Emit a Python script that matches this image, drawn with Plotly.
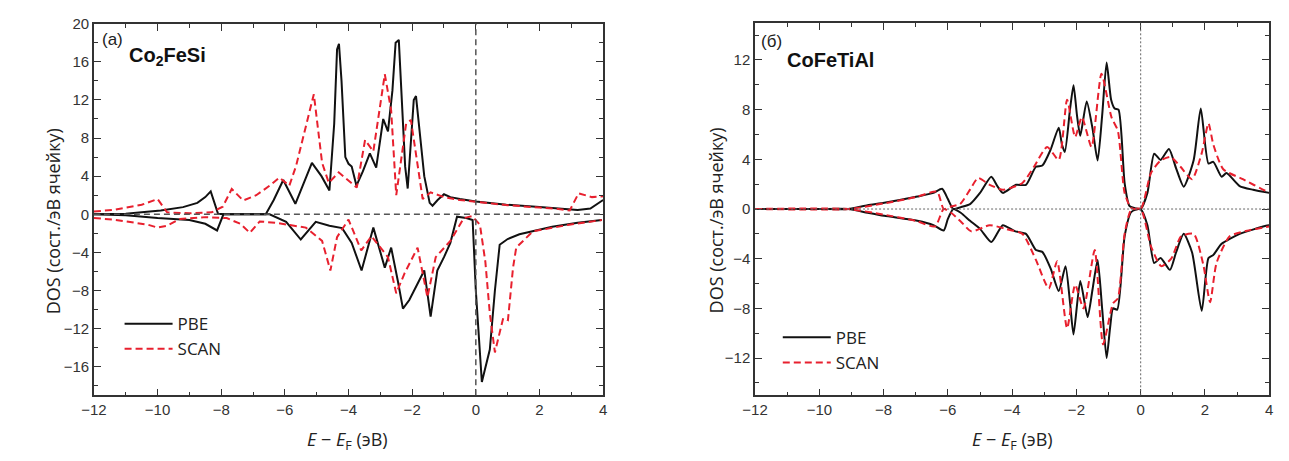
import plotly.graph_objects as go

# ---------------- Co2FeSi (panel a) ----------------
e_cfs_pbe_up = [-12, -11, -10.5, -9.9, -9.2, -8.75, -8.5, -8.33, -8.1, -7.9, -6.6, -6.35, -6.05, -5.67,
                -5.15, -4.85, -4.6, -4.45, -4.36, -4.3, -4.22, -4.1, -4.0, -3.9, -3.75, -3.55, -3.33, -3.13,
                -2.91, -2.76, -2.62, -2.52, -2.42, -2.33, -2.22, -2.14, -2.05, -1.95, -1.88, -1.8, -1.62,
                -1.45, -1.36, -1.2, -1.0, -0.8, -0.5, 0.0, 0.96, 2.0, 2.7, 3.2, 3.6, 4.0]
dos_cfs_pbe_up = [0, 0.05, 0.2, 0.4, 0.75, 1.2, 1.8, 2.4, 0.05, 0, 0, 1.5, 3.6, 1.1,
                  5.4, 4.0, 2.5, 9.5, 17.3, 17.9, 14.0, 6.0, 5.3, 5.0, 3.0, 4.5, 6.4, 4.9,
                  10.0, 8.7, 13.0, 18.0, 18.3, 12.0, 5.0, 2.7, 7.0, 12.0, 12.4, 10.0, 4.0,
                  1.2, 0.9, 1.5, 2.1, 1.8, 1.6, 1.35, 1.0, 0.76, 0.55, 0.45, 0.6, 1.5]

e_cfs_pbe_dn = [-12, -11, -10, -9.0, -8.5, -8.13, -7.93, -6.48, -5.96, -5.5, -5.03, -4.6, -4.2, -3.9,
                -3.59, -3.22, -2.86, -2.66, -2.45, -2.29, -2.09, -1.85, -1.62, -1.42, -1.21, -1.0, -0.8,
                -0.59, -0.3, -0.1, 0.0, 0.19, 0.44, 0.6, 0.75, 1.0, 1.37, 2.4, 3.2, 3.96]
dos_cfs_pbe_dn = [0, -0.1, -0.4, -0.6, -1.0, -1.7, 0, 0, -0.8, -2.65, -0.8, -1.2, -1.45, -3.0,
                  -5.9, -1.4, -5.6, -3.5, -7.0, -9.9, -9.0, -7.5, -5.9, -10.75, -5.9, -4.5, -3.0,
                  -0.25, -0.4, -0.6, -8.0, -17.6, -14.2, -8.0, -3.2, -2.6, -2.1, -1.3, -0.9, -0.6]

e_cfs_scan_up = [-12, -11.4, -10.5, -10.0, -9.7, -9.0, -8.3, -7.95, -7.67, -7.31, -6.9, -6.48, -6.17,
                 -5.86, -5.65, -5.09, -4.83, -4.62, -4.31, -3.74, -3.48, -3.22, -2.86, -2.66, -2.5,
                 -2.19, -2.04, -1.67, -1.42, -1.0, -0.5, 0, 1.0, 2.0, 2.5, 2.95, 3.23, 3.65, 4.0]
dos_cfs_scan_up = [0.3, 0.45, 1.0, 1.6, 0.2, 0.1, 0.2, 0.8, 2.65, 1.45, 2.0, 3.0, 3.85,
                   3.0, 5.05, 12.6, 5.4, 3.3, 4.4, 2.8, 7.8, 6.6, 14.7, 10.9, 2.0,
                   9.5, 9.9, 1.6, 2.3, 1.8, 1.5, 1.3, 0.95, 0.7, 0.6, 0.4, 2.2, 1.8, 1.9]

e_cfs_scan_dn = [-12, -11.4, -10.3, -10.0, -9.7, -9.3, -8.5, -7.83, -7.4, -7.1, -6.79, -6.27, -5.34,
                 -4.83, -4.57, -4.36, -4.0, -3.6, -3.28, -2.76, -2.5, -2.24, -1.83, -1.52, -1.26, -0.8,
                 -0.38, -0.12, 0.13, 0.3, 0.44, 0.6, 0.86, 1.01, 1.17, 1.27, 1.79, 2.93, 3.96]
dos_cfs_scan_dn = [-0.4, -0.55, -1.1, -1.4, -1.2, -0.5, -0.3, -0.4, -1.0, -1.95, -0.75, -0.9, -1.4,
                   -2.8, -5.9, -2.4, -0.55, -3.8, -2.3, -4.5, -8.3, -6.2, -3.5, -8.7, -4.5, -2.8,
                   -0.4, -0.2, -1.1, -5.0, -10.4, -14.5, -10.9, -11.1, -5.6, -3.5, -1.8, -1.1, -0.6]

# ---------------- CoFeTiAl (panel б) ----------------
e_cfta_pbe_up = [-12, -10, -9.1, -8.5, -7.98, -6.95, -6.45, -6.18, -6.0, -5.83, -5.6, -5.31, -5.0, -4.65,
                 -4.45, -4.29, -3.88, -3.57, -3.26, -3.06, -2.8, -2.55, -2.45, -2.36, -2.2, -2.09, -1.98,
                 -1.88, -1.68, -1.5, -1.34, -1.2, -1.06, -0.92, -0.81, -0.69, -0.5, -0.35, -0.15, 0,
                 0.21, 0.42, 0.62, 0.88, 1.1, 1.34, 1.65, 1.87, 2.11, 2.26, 2.52, 2.67, 3.08, 3.5, 4.0]
dos_cfta_pbe_up = [0, 0, 0, 0.3, 0.5, 1.0, 1.3, 1.63, 0.8, 0, 0.15, 0.4, 1.3, 2.6,
                   1.8, 1.3, 1.95, 1.95, 3.4, 3.5, 4.8, 6.55, 5.2, 4.6, 8.0, 9.97, 7.5,
                   5.9, 8.66, 6.5, 3.9, 7.5, 11.8, 8.8, 8.1, 8.0, 2.1, 0.26, 0.05, 0,
                   1.3, 4.45, 3.95, 4.84, 3.3, 1.8, 3.95, 8.1, 3.66, 3.8, 2.6, 2.9, 1.85, 1.55, 1.3]

e_cfta_pbe_dn = [-12, -10, -9.1, -8.5, -7.98, -6.95, -6.45, -6.13, -6.0, -5.83, -5.6, -5.31, -5.0, -4.65,
                 -4.45, -4.29, -3.9, -3.57, -3.26, -3.06, -2.8, -2.55, -2.34, -2.2, -2.09, -1.88, -1.65,
                 -1.5, -1.34, -1.2, -1.06, -0.95, -0.86, -0.73, -0.5, -0.3, -0.15, 0, 0.21, 0.42, 0.62,
                 0.91, 1.1, 1.34, 1.6, 1.9, 2.11, 2.26, 2.52, 3.08, 3.9, 4.0]
dos_cfta_pbe_dn = [0, 0, 0, -0.3, -0.55, -0.95, -1.3, -1.73, -0.8, 0, -0.3, -0.95, -1.6, -2.66,
                   -1.9, -1.3, -1.8, -2.0, -3.3, -3.45, -4.8, -6.6, -4.6, -7.5, -10.1, -5.8, -8.7,
                   -6.5, -4.1, -8.0, -12.0, -9.5, -8.0, -8.1, -2.2, -0.26, -0.05, 0, -1.3, -4.35, -3.95,
                   -4.9, -3.5, -2.0, -3.5, -8.2, -3.95, -3.7, -2.8, -2.0, -1.35, -1.3]

e_cfta_scan_up = [-12, -9.1, -8.0, -7.0, -6.34, -6.13, -5.9, -5.62, -5.3, -5.06, -4.7, -4.29, -3.68,
                  -3.32, -2.91, -2.55, -2.29, -2.04, -1.83, -1.53, -1.22, -0.91, -0.71, -0.5, -0.3, 0,
                  0.32, 0.62, 0.93, 1.24, 1.6, 1.9, 2.11, 2.26, 2.57, 3.18, 3.9, 4.0]
dos_cfta_scan_up = [0, 0, 0.45, 0.95, 1.4, 0, 0.2, 0.4, 1.6, 2.5, 1.95, 1.55, 2.1,
                    3.4, 5.0, 3.95, 8.8, 5.8, 7.4, 5.0, 10.9, 7.4, 6.3, 1.3, 0.1, 0,
                    2.9, 3.9, 4.2, 3.4, 2.4, 4.5, 6.9, 5.2, 3.2, 2.4, 1.45, 1.4]

e_cfta_scan_dn = [-12, -9.1, -8.0, -7.0, -6.4, -6.13, -5.9, -5.6, -5.27, -4.7, -4.2, -3.68, -3.26,
                  -2.86, -2.6, -2.29, -2.04, -1.78, -1.43, -1.17, -0.86, -0.71, -0.5, -0.3, 0, 0.32,
                  0.64, 0.95, 1.26, 1.65, 1.95, 2.16, 2.36, 2.77, 3.4, 4.0]
dos_cfta_scan_dn = [0, 0, -0.45, -0.95, -1.4, 0, -0.3, -1.0, -1.8, -1.3, -1.6, -2.0, -4.1,
                    -6.4, -4.2, -9.6, -6.1, -8.0, -3.3, -10.9, -7.6, -7.2, -2.0, -0.1, 0, -3.0,
                    -4.6, -4.0, -2.2, -2.0, -4.5, -7.5, -4.35, -2.2, -1.7, -1.4]

# axis tick spacing: (first labelled tick, major step, minor step)
x_ticks = (-12, 2, 1)
y_ticks_a = (-16, 4, 2)
y_ticks_b = (-12, 4, 2)

PBE_COLOR = "#111111"
SCAN_COLOR = "#e8202e"
FONT = "Liberation Sans, Arial, sans-serif"
TITLE_FONT = "Open Sans, Liberation Sans, sans-serif"
AXIS_COLOR = "#333333"

fig = go.Figure()


def add_curves(e, d, name, color, dash, xa, ya, legend, show, shape, smooth=0.0):
    line = dict(color=color, width=2, dash=dash, shape=shape)
    if shape == "spline":
        line["smoothing"] = smooth
    fig.add_trace(go.Scatter(x=e, y=d, mode="lines", name=name, line=line,
                             xaxis=xa, yaxis=ya, legend=legend, showlegend=show,
                             legendgroup=legend + name))


DASH = "7px,4px"
# panel (a)
add_curves(e_cfs_pbe_up, dos_cfs_pbe_up, "PBE", PBE_COLOR, "solid", "x", "y", "legend", True, "linear")
add_curves(e_cfs_scan_up, dos_cfs_scan_up, "SCAN", SCAN_COLOR, DASH, "x", "y", "legend", True, "linear")
add_curves(e_cfs_pbe_dn, dos_cfs_pbe_dn, "PBE", PBE_COLOR, "solid", "x", "y", "legend", False, "linear")
add_curves(e_cfs_scan_dn, dos_cfs_scan_dn, "SCAN", SCAN_COLOR, DASH, "x", "y", "legend", False, "linear")
# panel (б)
add_curves(e_cfta_pbe_up, dos_cfta_pbe_up, "PBE", PBE_COLOR, "solid", "x2", "y2", "legend2", True, "spline", 0.6)
add_curves(e_cfta_scan_up, dos_cfta_scan_up, "SCAN", SCAN_COLOR, DASH, "x2", "y2", "legend2", True, "spline", 0.6)
add_curves(e_cfta_pbe_dn, dos_cfta_pbe_dn, "PBE", PBE_COLOR, "solid", "x2", "y2", "legend2", False, "spline", 0.6)
add_curves(e_cfta_scan_dn, dos_cfta_scan_dn, "SCAN", SCAN_COLOR, DASH, "x2", "y2", "legend2", False, "spline", 0.6)

W, H = 1289, 461


def px_x(p):
    return p / W


def px_y(p):
    return 1 - p / H


def axis(domain, anchor, rng, spacing):
    tick0, major, minor = spacing
    return dict(domain=domain, anchor=anchor, range=rng,
                tickmode="linear", tick0=tick0, dtick=major,
                ticks="inside", ticklen=7, tickwidth=1.4, tickcolor=AXIS_COLOR,
                showline=True, linecolor=AXIS_COLOR, linewidth=1.6, mirror="ticks",
                showgrid=False, zeroline=False, layer="above traces",
                tickfont=dict(family=FONT, size=15, color="#333"),
                minor=dict(tick0=tick0, dtick=minor, ticks="inside", ticklen=4,
                           tickcolor=AXIS_COLOR, tickwidth=1.2, showgrid=False))


fig.update_layout(
    width=W, height=H, margin=dict(l=0, r=0, t=0, b=0),
    paper_bgcolor="white", plot_bgcolor="white",
    xaxis=axis([px_x(82), px_x(598)], "y", [-12, 4], x_ticks),
    yaxis=axis([px_y(394), px_y(15)], "x", [-19, 20], y_ticks_a),
    xaxis2=axis([px_x(752), px_x(1273)], "y2", [-12, 4], x_ticks),
    yaxis2=axis([px_y(394), px_y(14)], "x2", [-15, 15], y_ticks_b),
    legend=dict(x=px_x(108), y=px_y(303), xanchor="left", yanchor="top",
                bgcolor="rgba(0,0,0,0)", font=dict(family=TITLE_FONT, size=17, color="#222"),
                itemwidth=48, tracegroupgap=0),
    legend2=dict(x=px_x(775), y=px_y(317), xanchor="left", yanchor="top",
                 bgcolor="rgba(0,0,0,0)", font=dict(family=TITLE_FONT, size=17, color="#222"),
                 itemwidth=48, tracegroupgap=0),
)

# zero reference lines at DOS = 0 and at the Fermi level
fig.add_shape(type="line", xref="x domain", yref="y", x0=0, x1=1, y0=0, y1=0,
              line=dict(color="#555", width=1.5, dash="6px,4px"))
fig.add_shape(type="line", xref="x", yref="y domain", x0=0, x1=0, y0=0, y1=1,
              line=dict(color="#555", width=1.5, dash="6px,4px"))
fig.add_shape(type="line", xref="x2 domain", yref="y2", x0=0, x1=1, y0=0, y1=0,
              line=dict(color="#666", width=1, dash="2px,2px"))
fig.add_shape(type="line", xref="x2", yref="y2 domain", x0=0, x1=0, y0=0, y1=1,
              line=dict(color="#666", width=1, dash="2px,2px"))

ann = []
ylab = "DOS (сост./эВ ячейку)"
xlab = "<i>E</i> − <i>E</i><sub>F</sub> (эВ)"
for xc in (40, 712):
    ann.append(dict(text=ylab, x=px_x(xc), y=px_y(216), xref="paper", yref="paper", textangle=-90,
                    showarrow=False, xanchor="center", yanchor="middle",
                    font=dict(family=TITLE_FONT, size=18, color="#222")))
for xc in (339, 1013):
    ann.append(dict(text=xlab, x=px_x(xc), y=px_y(440), xref="paper", yref="paper",
                    showarrow=False, xanchor="center", yanchor="middle",
                    font=dict(family=TITLE_FONT, size=18, color="#222")))
ann.append(dict(text="(a)", x=px_x(88), y=px_y(31), xref="paper", yref="paper", showarrow=False,
                xanchor="left", yanchor="middle", font=dict(family=FONT, size=17, color="#222")))
ann.append(dict(text="<b>Co<sub>2</sub>FeSi</b>", x=px_x(116), y=px_y(48), xref="paper", yref="paper",
                showarrow=False, xanchor="left", yanchor="middle",
                font=dict(family=FONT, size=20, color="#111")))
ann.append(dict(text="(б)", x=px_x(756), y=px_y(33), xref="paper", yref="paper", showarrow=False,
                xanchor="left", yanchor="middle", font=dict(family=FONT, size=17, color="#222")))
ann.append(dict(text="<b>CoFeTiAl</b>", x=px_x(782), y=px_y(52), xref="paper", yref="paper",
                showarrow=False, xanchor="left", yanchor="middle",
                font=dict(family=FONT, size=20, color="#111")))
fig.update_layout(annotations=ann)

fig.write_html("out.html")
